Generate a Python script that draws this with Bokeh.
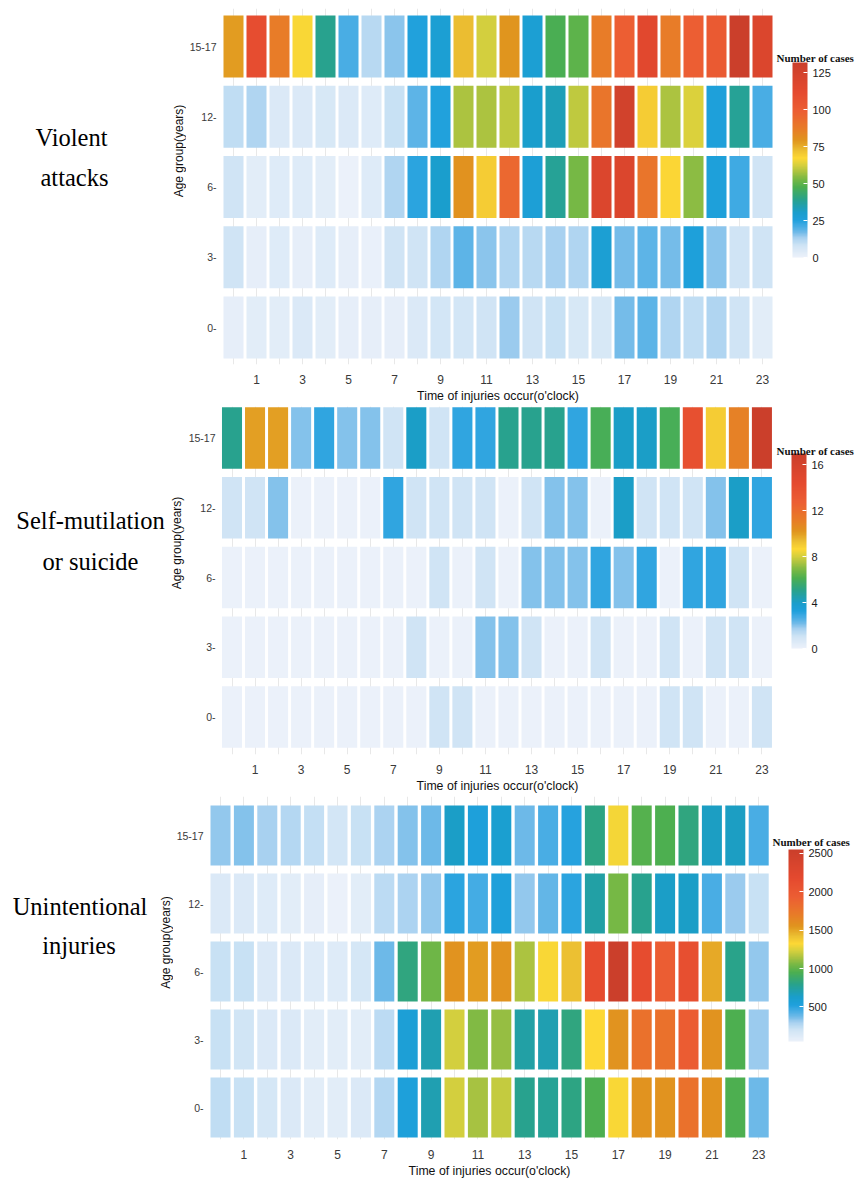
import math
from bokeh.plotting import figure
from bokeh.models import (ColumnDataSource, LinearColorMapper, ColorBar, FixedTicker,
                          Label, Range1d)
from bokeh.layouts import column, row
from bokeh.transform import transform
from bokeh.core.properties import value
from bokeh.embed import file_html
from bokeh.resources import INLINE

# ---------------- data ----------------
hours = list(range(24))
hour_ticks = [1, 3, 5, 7, 9, 11, 13, 15, 17, 19, 21, 23]
age_groups = ["0-", "3-", "6-", "12-", "15-17"]

# Violent attacks (rows: 0-, 3-, 6-, 12-, 15-17)
violent_0 = [2, 3, 3, 5, 3, 2, 2, 2, 5, 7, 7, 8, 14, 8, 9, 6, 6, 17, 19, 12, 10, 12, 8, 3]
violent_3 = [8, 2, 4, 2, 4, 2, 1, 8, 8, 12, 19, 15, 12, 11, 13, 12, 28, 17, 19, 17, 26, 15, 8, 8]
violent_6 = [8, 3, 4, 4, 3, 0, 4, 12, 24, 30, 80, 70, 95, 27, 38, 53, 120, 120, 90, 68, 55, 26, 22, 8]
violent_12 = [10, 12, 5, 5, 6, 5, 4, 9, 19, 25, 58, 58, 60, 30, 33, 60, 90, 127, 70, 58, 63, 26, 38, 21]
violent_15_17 = [78, 110, 87, 67, 39, 21, 11, 15, 25, 28, 73, 62, 79, 28, 47, 50, 87, 99, 115, 87, 100, 102, 132, 120]
violent_ticks = [0, 25, 50, 75, 100, 125]

# Self-mutilation or suicide
self_0 = [0, 0, 0, 0, 0, 0, 0, 0, 0, 1, 1, 0, 0, 0, 0, 0, 0, 0, 0, 1, 1, 0, 0, 1]
self_3 = [0, 0, 0, 0, 0, 0, 0, 0, 1, 0, 0, 2, 2, 1, 0, 0, 1, 0, 0, 1, 0, 1, 1, 0]
self_6 = [0, 0, 0, 0, 0, 0, 0, 0, 0, 1, 0, 1, 0, 2, 2, 2, 3, 2, 3, 0, 3, 3, 1, 0]
self_12 = [1, 1, 2, 0, 0, 0, 0, 3, 1, 1, 1, 1, 0, 1, 2, 2, 0, 4, 1, 1, 1, 2, 4, 3]
self_15_17 = [5, 10, 10, 2, 3, 2, 2, 1, 4, 1, 3, 3, 5, 5, 5, 3, 6, 4, 4, 6, 14, 9, 11, 17]
self_ticks = [0, 4, 8, 12, 16]

# Unintentional injuries
unint_0 = [240, 220, 170, 140, 100, 100, 140, 270, 540, 700, 1230, 1140, 1200, 790, 770, 815, 955, 1320, 1560, 1560, 1780, 1560, 955, 380]
unint_3 = [220, 195, 140, 140, 100, 100, 100, 250, 560, 700, 1225, 1070, 1110, 730, 700, 830, 1325, 1560, 1780, 1780, 1960, 1560, 950, 315]
unint_6 = [220, 220, 140, 140, 120, 120, 170, 375, 830, 1030, 1560, 1530, 1560, 1150, 1320, 1420, 2150, 2552, 2150, 1950, 2120, 1490, 800, 330]
unint_12 = [140, 140, 120, 100, 80, 49, 100, 250, 290, 330, 500, 450, 540, 330, 400, 500, 725, 1050, 790, 640, 640, 445, 315, 220]
unint_15_17 = [330, 350, 300, 270, 230, 185, 220, 290, 350, 380, 640, 540, 600, 380, 445, 510, 820, 1310, 975, 950, 830, 650, 650, 445]
unint_ticks = [500, 1000, 1500, 2000, 2500]

panel_titles = [["Violent", "attacks"],
                ["Self-mutilation", "or suicide"],
                ["Unintentional", "injuries"]]
x_title = "Time of injuries occur(o'clock)"
y_title = "Age group(years)"
legend_title = "Number of cases"

# ---------------- colour scale ----------------
anchors = [
    (0.00, "#ebf1fa"), (0.06, "#cfe4f5"), (0.10, "#a6d0f0"), (0.13, "#6cb9e8"),
    (0.16, "#45ace4"), (0.19, "#1fa0dc"), (0.23, "#1a9ecc"), (0.27, "#22a0a6"),
    (0.30, "#2aa388"), (0.36, "#4caf50"), (0.40, "#76b845"), (0.44, "#adc340"),
    (0.47, "#d2cf3e"), (0.51, "#fdd835"), (0.55, "#ecbf32"), (0.60, "#e0951e"),
    (0.66, "#e87c28"), (0.75, "#ec5f33"), (0.85, "#e54a2f"), (1.00, "#cb3f2b"),
]


def hex2rgb(h):
    return tuple(int(h[i:i + 2], 16) for i in (1, 3, 5))


def build_palette(n=256):
    out = []
    for k in range(n):
        f = k / (n - 1)
        for (f0, c0), (f1, c1) in zip(anchors[:-1], anchors[1:]):
            if f0 <= f <= f1:
                t = (f - f0) / (f1 - f0) if f1 > f0 else 0
                a, b = hex2rgb(c0), hex2rgb(c1)
                rgb = [round(a[i] + (b[i] - a[i]) * t) for i in range(3)]
                out.append("#%02x%02x%02x" % tuple(rgb))
                break
    return out


palette = build_palette()

SANS = "Liberation Sans"
SERIF = "Liberation Serif"
AXIS_PANEL = 42
YAX = 31  # width reserved for y tick labels


def blank_fig(w, cfg, flip):
    # frame occupies figure rows mt .. mt+fh (same borders as the heat map,
    # so that the row layout keeps the frames aligned)
    top, bot = cfg["mt"], cfg["mt"] + cfg["fh"]
    yr = Range1d(bot, top) if flip else Range1d(0, cfg["fh"])
    f = figure(width=w, height=cfg["fh"] + cfg["mt"] + AXIS_PANEL,
               x_range=Range1d(0, w), y_range=yr,
               x_axis_type=None, y_axis_type=None, toolbar_location=None,
               output_backend="svg", min_border_left=0, min_border_right=0,
               min_border_top=cfg["mt"], min_border_bottom=AXIS_PANEL)
    f.outline_line_color = None
    f.grid.visible = False
    return f


def make_label_fig(lines, cfg):
    lf = blank_fig(cfg["left"] - YAX, cfg, True)
    lf.text(x=cfg["lx"], y=[v - 9 for v in cfg["ly"]], text=lines,
            text_font=value(SERIF), text_font_size="24.5px", text_color="black",
            text_align="center", text_baseline="alphabetic")
    lf.text(x=[cfg["ytx"]], y=[cfg["yty"]], text=[y_title], angle=math.pi / 2,
            text_font=value(SANS), text_font_size="12px", text_color="#111111",
            text_align="center", text_baseline="middle")
    return lf


def make_cbar_fig(mapper, ticks, cfg):
    cf = blank_fig(855 - cfg["right"], cfg, False)
    fb = cfg["mt"] + cfg["fh"]  # frame bottom, in figure rows
    cb = ColorBar(color_mapper=mapper, ticker=FixedTicker(ticks=ticks),
                  location=(cfg["cbx"], fb - cfg["cbb"]), width=15, height=cfg["cbh"],
                  padding=0, margin=0, label_standoff=5,
                  major_label_text_font=SANS, major_label_text_font_size="11px",
                  major_label_text_color="#1a1a1a",
                  major_tick_line_color="white", major_tick_in=4, major_tick_out=0,
                  minor_tick_line_color=None,
                  bar_line_color=None, border_line_color=None,
                  background_fill_alpha=0)
    cf.add_layout(cb)
    cf.add_layout(Label(x=cfg["tx"], y=fb - cfg["tb"], x_units="screen", y_units="screen",
                        text=legend_title, text_font=SERIF, text_font_style="bold",
                        text_font_size="11px", text_color="#111111",
                        text_align="left", text_baseline="alphabetic"))
    return cf


def make_panel(rows, cfg):
    xs, ys, vals = [], [], []
    for gi, r in enumerate(rows):
        for h, v in zip(hours, r):
            xs.append(h)
            ys.append(gi)
            vals.append(v)
    src = ColumnDataSource(dict(hour=xs, row=ys, value=vals,
                                group=[age_groups[i] for i in ys]))
    mapper = LinearColorMapper(palette=palette, low=min(vals), high=max(vals))

    fw = cfg["right"] - cfg["left"]
    p = figure(frame_width=fw, frame_height=cfg["fh"],
               x_range=Range1d(cfg["x0"], cfg["x0"] + fw / cfg["dx"]),
               y_range=Range1d(cfg["y1"] - cfg["fh"] / cfg["dy"], cfg["y1"]),
               output_backend="svg", toolbar_location=None,
               min_border_left=YAX, min_border_right=0,
               min_border_top=cfg["mt"], min_border_bottom=AXIS_PANEL)
    p.outline_line_color = None
    p.background_fill_color = "white"

    p.rect(x="hour", y="row", width=cfg["cw"], height=cfg["ch"], source=src,
           fill_color=transform("value", mapper), line_color=None)

    p.xgrid.ticker = FixedTicker(ticks=hours)
    p.xgrid.grid_line_color = "#e8e8e8"
    p.ygrid.grid_line_color = None

    xa = p.xaxis[0]
    xa.ticker = FixedTicker(ticks=hour_ticks)
    xa.axis_line_color = None
    xa.major_tick_line_color = None
    xa.minor_tick_line_color = None
    xa.major_label_text_font = SANS
    xa.major_label_text_font_size = "12px"
    xa.major_label_text_color = "#3a3a3a"
    xa.major_label_standoff = 4
    xa.axis_label = x_title
    xa.axis_label_text_font = SANS
    xa.axis_label_text_font_size = "12.3px"
    xa.axis_label_text_font_style = "normal"
    xa.axis_label_text_color = "#111111"
    xa.axis_label_standoff = 2

    ya = p.yaxis[0]
    ya.ticker = FixedTicker(ticks=list(range(len(age_groups))))
    ya.major_label_overrides = {i: g for i, g in enumerate(age_groups)}
    ya.axis_line_color = None
    ya.major_tick_line_color = None
    ya.minor_tick_line_color = None
    ya.major_tick_out = 0
    ya.major_tick_in = 0
    ya.minor_tick_out = 0
    ya.minor_tick_in = 0
    ya.major_label_text_font = SANS
    ya.major_label_text_font_size = "10.5px"
    ya.major_label_text_color = "#3a3a3a"
    ya.major_label_standoff = 3
    return p, mapper


# All vertical positions below are figure rows (pixels from the figure top).
# panel 1: frame x 217..774, rows 8..364 (figure spans page rows 0..406)
cfg1 = dict(left=217, right=774, mt=8, fh=356, dx=23.0, dy=70.25,
            x0=(217 - 231) / 23.0, y1=4 + (46 - 8) / 70.25, cw=0.87, ch=0.88,
            cbx=16, cbb=257, cbh=195, tx=0, tb=57,
            lx=[71, 74], ly=[146, 186], ytx=178.5, yty=150.5)
# panel 2: frame x 216..774, rows 0..348 (page rows 406..796)
cfg2 = dict(left=216, right=774, mt=0, fh=348, dx=23.04, dy=69.75,
            x0=(216 - 229.5) / 23.04, y1=4 + (437.5 - 406) / 69.75, cw=0.87, ch=0.88,
            cbx=15, cbb=242, cbh=195, tx=0, tb=44,
            lx=[90, 90], ly=[123, 164], ytx=176.5, yty=136.5)
# panel 3: frame x 204..770, rows 0..343 (page rows 796..1181)
cfg3 = dict(left=204, right=770, mt=0, fh=343, dx=23.4, dy=68.0,
            x0=(204 - 218) / 23.4, y1=4 + (835 - 796) / 68.0, cw=0.855, ch=0.882,
            cbx=16, cbb=245, cbh=192, tx=0, tb=45,
            lx=[79.5, 78.5], ly=[119, 158], ytx=165, yty=146)

rows_out = []
for data, ticks, cfg, titles in [
    ([violent_0, violent_3, violent_6, violent_12, violent_15_17], violent_ticks, cfg1, panel_titles[0]),
    ([self_0, self_3, self_6, self_12, self_15_17], self_ticks, cfg2, panel_titles[1]),
    ([unint_0, unint_3, unint_6, unint_12, unint_15_17], unint_ticks, cfg3, panel_titles[2]),
]:
    heat, mapper = make_panel(data, cfg)
    rows_out.append(row(make_label_fig(titles, cfg), heat,
                        make_cbar_fig(mapper, ticks, cfg), spacing=0))

layout = column(*rows_out, spacing=0)

open("out.html", "w").write(file_html(layout, INLINE))
